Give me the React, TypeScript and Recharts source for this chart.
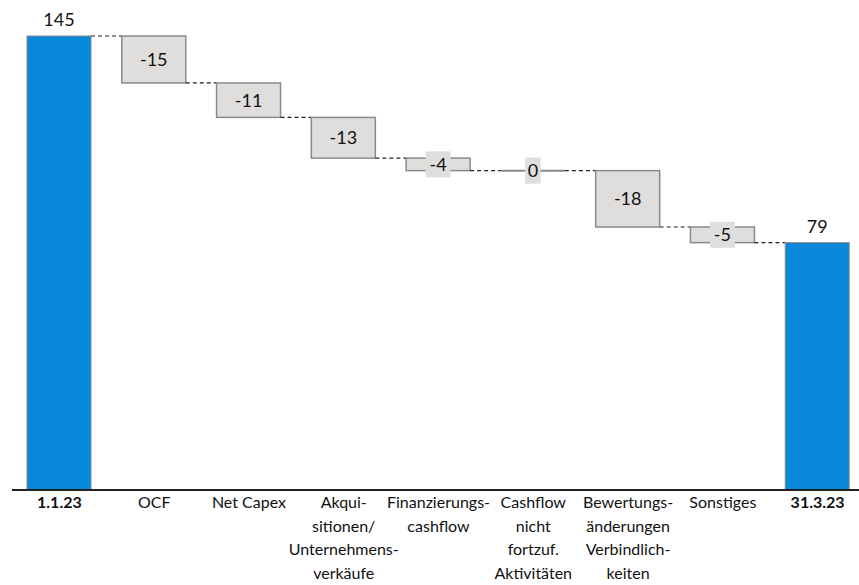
import React from "react";
import { BarChart, Bar, XAxis, YAxis } from "recharts";

const categories = [
  ["1.1.23"],
  ["OCF"],
  ["Net Capex"],
  ["Akqui-", "sitionen/", "Unternehmens-", "verkäufe"],
  ["Finanzierungs-", "cashflow"],
  ["Cashflow", "nicht", "fortzuf.", "Aktivitäten"],
  ["Bewertungs-", "änderungen", "Verbindlich-", "keiten"],
  ["Sonstiges"],
  ["31.3.23"],
];
const values = [145, -15, -11, -13, -4, 0, -18, -5, 79];
const isTotal = [true, false, false, false, false, false, false, false, true];

const CHART_W = 866;
const CHART_H = 585;
const M_LEFT = 12;
const M_RIGHT = 1;
const BAR_SIZE = 64;
const BAND = (CHART_W - M_LEFT - M_RIGHT) / categories.length;
const GAP = BAND - BAR_SIZE;

const BLUE = "#0888DA";
const GREY = "#DFDEDD";
const EDGE = "#8A8A8A";
const FONT = "Lato, 'Open Sans', sans-serif";

// running level -> [low, high] for each bar
let level = 0;
const data = categories.map((lines, i) => {
  const v = values[i];
  let low: number, high: number, endTop: boolean;
  if (isTotal[i]) {
    low = 0;
    high = v;
    endTop = true;
    level = v;
  } else {
    const next = level + v;
    low = Math.min(level, next);
    high = Math.max(level, next);
    endTop = v > 0;
    level = next;
  }
  return { name: lines.join(" "), lines, value: v, total: isTotal[i], range: [low, high], endTop };
});

const WaterfallShape = (props: any) => {
  const { x, y, width, height, payload, index } = props;
  const h = Math.max(0, height || 0);
  const cx = x + width / 2;
  const endY = payload.endTop ? y : y + h;
  const label = String(payload.value);
  const boxW = label.length * 9.5 + 6;
  return (
    <g>
      {h < 1 ? (
        <line x1={x} x2={x + width} y1={y} y2={y} stroke={EDGE} strokeWidth={2} />
      ) : (
        <rect
          x={x}
          y={y}
          width={width}
          height={h}
          fill={payload.total ? BLUE : GREY}
          stroke={EDGE}
          strokeWidth={payload.total ? 1 : 1.5}
        />
      )}
      {index < data.length - 1 && (
        <line
          x1={x + width}
          x2={x + width + GAP}
          y1={endY}
          y2={endY}
          stroke="#222"
          strokeWidth={1.2}
          strokeDasharray="4 3"
        />
      )}
      {payload.total ? (
        <text x={cx} y={y - 10} textAnchor="middle" fontSize={18} fontFamily={FONT} fill="#111">
          {label}
        </text>
      ) : (
        <g>
          <rect x={cx - boxW / 2} y={y + h / 2 - 13} width={boxW} height={26} fill={GREY} />
          <text x={cx} y={y + h / 2 + 6.5} textAnchor="middle" fontSize={18} fontFamily={FONT} fill="#111">
            {label}
          </text>
        </g>
      )}
    </g>
  );
};

const CategoryTick = (props: any) => {
  const { x, y, index } = props;
  const row = data[index];
  if (!row) return null;
  return (
    <text
      x={x}
      y={y + 18}
      textAnchor="middle"
      fontSize={16}
      fontFamily={FONT}
      fontWeight={row.total ? 700 : 400}
      fill="#111"
    >
      {row.lines.map((ln: string, i: number) => (
        <tspan key={i} x={x} dy={i === 0 ? 0 : 23.5}>
          {ln}
        </tspan>
      ))}
    </text>
  );
};

export default function App() {
  return (
    <div
      style={{
        position: "absolute",
        left: 0,
        top: 0,
        width: 859,
        height: 585,
        overflow: "hidden",
        background: "#fff",
      }}
    >
      <BarChart
        width={CHART_W}
        height={CHART_H}
        data={data}
        margin={{ top: 36, right: M_RIGHT, left: M_LEFT, bottom: 0 }}
      >
        <XAxis
          dataKey="name"
          height={95}
          interval={0}
          tickLine={false}
          tickSize={0}
          tickMargin={0}
          axisLine={{ stroke: "#222", strokeWidth: 2 }}
          tick={<CategoryTick />}
        />
        <YAxis hide domain={[0, 145]} />
        <Bar
          dataKey="range"
          barSize={BAR_SIZE}
          shape={<WaterfallShape />}
          isAnimationActive={false}
        />
      </BarChart>
    </div>
  );
}
